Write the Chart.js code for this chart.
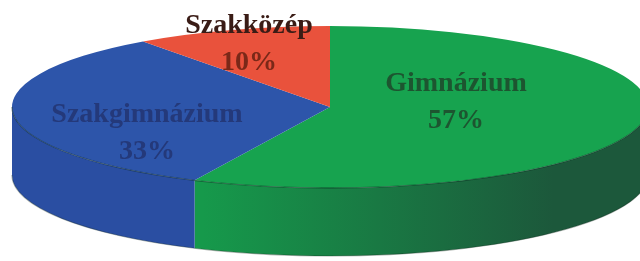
<!DOCTYPE html>
<html>
<head>
<meta charset="utf-8">
<script src="https://cdn.jsdelivr.net/npm/chart.js@4.4.0/dist/chart.umd.min.js"></script>
<style>
html,body{margin:0;padding:0;background:#fff}
#wrap{width:640px;height:261px;position:relative}
</style>
</head>
<body>
<div id="wrap"><canvas id="pie"></canvas></div>
<script>
// data
const categories = ['Gimnázium', 'Szakgimnázium', 'Szakközép']
const shares = [57, 33, 10]
const pctLabels = ['57%', '33%', '10%']

// look
const topColors = ['#17a34f', '#2d55aa', '#e9523c']
const sideLeft = ['#16994b', '#2a4ea2', '#c8442f']
const sideRight = ['#1c583b', '#2c51a7', '#a83a28']
const textColors = ['#1d5530', '#24397a', '#3a1c16']
const pctColors = ['#1d5530', '#24397a', '#7a2818']

const TILT = 81/318   // ry / rx of the top face
const DEPTH = 68      // height of the cylinder wall
const LINE_GAP = 37
// label baseline offsets from the pie centre (px)
const labelOffsets = [[126,-16],[-183,15],[-81,-74]]

function frontSpans(s, e){
  // parts of [s,e] that lie on the near (lower) half of the disc
  const out = []
  for (let k=-1;k<=1;k++){
    const lo = 2*Math.PI*k, hi = lo + Math.PI
    const a0 = Math.max(s, lo), a1 = Math.min(e, hi)
    if (a1 > a0) out.push([a0, a1])
  }
  return out
}

const pie3d = {
  id:'pie3d',
  beforeDatasetsDraw(chart){
    const ctx = chart.ctx
    const arcs = chart.getDatasetMeta(0).data
    const a = arcs[0]
    const cx = a.x, cy = a.y, r = a.outerRadius, ry = r*TILT
    arcs.forEach((arc,i)=>{
      const g = ctx.createLinearGradient(cx-r,0,cx+r,0)
      g.addColorStop(0, sideLeft[i]); g.addColorStop(0.3, sideLeft[i])
      g.addColorStop(0.85, sideRight[i]); g.addColorStop(1, sideRight[i])
      frontSpans(arc.startAngle, arc.endAngle).forEach(([a0,a1])=>{
        ctx.beginPath()
        ctx.ellipse(cx, cy, r, ry, 0, a0, a1)
        ctx.ellipse(cx, cy+DEPTH, r, ry, 0, a1, a0, true)
        ctx.closePath()
        ctx.fillStyle = g
        ctx.fill()
      })
    })
    // bottom outline
    ctx.beginPath()
    ctx.ellipse(cx, cy+DEPTH, r, ry, 0, 0, Math.PI)
    ctx.strokeStyle = 'rgba(20,40,30,0.35)'; ctx.lineWidth = 1.2; ctx.stroke()
    // squash the top face into an ellipse
    ctx.save()
    ctx.translate(cx, cy); ctx.scale(1, TILT); ctx.translate(-cx, -cy)
  },
  afterDatasetsDraw(chart){
    const ctx = chart.ctx
    ctx.restore()
    const arcs = chart.getDatasetMeta(0).data
    const a = arcs[0]
    const cx = a.x, cy = a.y, r = a.outerRadius, ry = r*TILT
    // front rim line
    ctx.beginPath()
    ctx.ellipse(cx, cy, r, ry, 0, 0, Math.PI)
    ctx.strokeStyle = 'rgba(10,40,30,0.45)'; ctx.lineWidth = 1.3; ctx.stroke()
    // labels
    ctx.save()
    ctx.font = 'bold 28px "Liberation Serif", "DejaVu Serif", serif'
    ctx.textAlign = 'center'
    ctx.textBaseline = 'alphabetic'
    categories.forEach((name,i)=>{
      const [dx,dy] = labelOffsets[i]
      ctx.fillStyle = textColors[i]
      ctx.fillText(name, cx+dx, cy+dy)
      ctx.fillStyle = pctColors[i]
      ctx.fillText(pctLabels[i], cx+dx, cy+dy+LINE_GAP)
    })
    ctx.restore()
  }
}

new Chart(document.getElementById('pie'), {
  type:'pie',
  data:{
    labels:categories,
    datasets:[{data:shares, backgroundColor:topColors, borderWidth:0, clip:false}]
  },
  options:{
    responsive:true,
    maintainAspectRatio:false,
    animation:false,
    radius:318,
    layout:{padding:{left:20, right:0, top:0, bottom:47}},
    plugins:{legend:{display:false}, tooltip:{enabled:false}}
  },
  plugins:[pie3d]
})
</script>
</body>
</html>
